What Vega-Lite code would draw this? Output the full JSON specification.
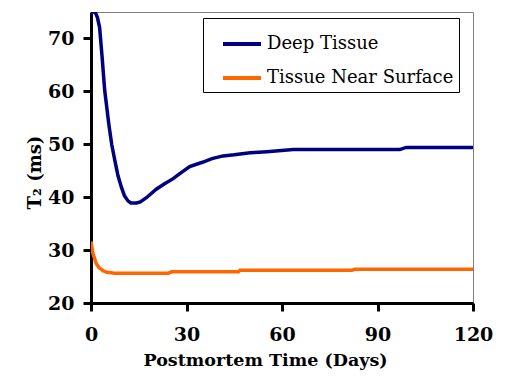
{
  "$schema": "https://vega.github.io/schema/vega-lite/v6.json",
  "width": 382,
  "height": 291,
  "autosize": {"type": "none"},
  "padding": {"left": 91, "top": 12, "right": 33, "bottom": 76},
  "background": "white",
  "config": {
    "font": "DejaVu Serif",
    "view": {"stroke": "#808080", "strokeWidth": 1},
    "axis": {
      "grid": false,
      "domainColor": "#000000",
      "domainWidth": 3,
      "tickColor": "#000000",
      "tickWidth": 3,
      "tickSize": 8,
      "labelFont": "DejaVu Serif",
      "labelFontWeight": "bold",
      "labelFontSize": 19,
      "labelColor": "#000000",
      "titleFont": "DejaVu Serif",
      "titleFontWeight": "bold",
      "titleFontSize": 17.5,
      "titleColor": "#000000"
    },
    "legend": {
      "orient": "none",
      "legendX": 112,
      "legendY": 6,
      "strokeColor": "#000000",
      "fillColor": "#ffffff",
      "padding": 5,
      "labelFont": "DejaVu Serif",
      "labelFontSize": 18,
      "labelColor": "#000000",
      "labelLimit": 400,
      "symbolType": "stroke",
      "symbolSize": 1444,
      "symbolStrokeWidth": 4,
      "symbolOffset": 13,
      "rowPadding": 4,
      "labelOffset": 4
    }
  },
  "data": {
    "values": [
      {"day": 0, "t2": 75, "tissue": "Deep Tissue"},
      {"day": 1.3, "t2": 75, "tissue": "Deep Tissue"},
      {"day": 2, "t2": 74, "tissue": "Deep Tissue"},
      {"day": 2.7, "t2": 72.1, "tissue": "Deep Tissue"},
      {"day": 3.5, "t2": 66.4, "tissue": "Deep Tissue"},
      {"day": 4.3, "t2": 60.2, "tissue": "Deep Tissue"},
      {"day": 5.6, "t2": 53.8, "tissue": "Deep Tissue"},
      {"day": 6.5, "t2": 50, "tissue": "Deep Tissue"},
      {"day": 7.5, "t2": 46.9, "tissue": "Deep Tissue"},
      {"day": 8.5, "t2": 44, "tissue": "Deep Tissue"},
      {"day": 9.6, "t2": 41.8, "tissue": "Deep Tissue"},
      {"day": 10.5, "t2": 40.3, "tissue": "Deep Tissue"},
      {"day": 11.6, "t2": 39.3, "tissue": "Deep Tissue"},
      {"day": 12.5, "t2": 38.9, "tissue": "Deep Tissue"},
      {"day": 14.3, "t2": 38.9, "tissue": "Deep Tissue"},
      {"day": 15.5, "t2": 39.1, "tissue": "Deep Tissue"},
      {"day": 17.4, "t2": 39.9, "tissue": "Deep Tissue"},
      {"day": 20.5, "t2": 41.5, "tissue": "Deep Tissue"},
      {"day": 23, "t2": 42.5, "tissue": "Deep Tissue"},
      {"day": 25.8, "t2": 43.5, "tissue": "Deep Tissue"},
      {"day": 28, "t2": 44.5, "tissue": "Deep Tissue"},
      {"day": 31, "t2": 45.8, "tissue": "Deep Tissue"},
      {"day": 35, "t2": 46.6, "tissue": "Deep Tissue"},
      {"day": 38, "t2": 47.3, "tissue": "Deep Tissue"},
      {"day": 41.5, "t2": 47.8, "tissue": "Deep Tissue"},
      {"day": 45, "t2": 48, "tissue": "Deep Tissue"},
      {"day": 50, "t2": 48.4, "tissue": "Deep Tissue"},
      {"day": 55.3, "t2": 48.6, "tissue": "Deep Tissue"},
      {"day": 63.5, "t2": 49, "tissue": "Deep Tissue"},
      {"day": 97, "t2": 49, "tissue": "Deep Tissue"},
      {"day": 99, "t2": 49.4, "tissue": "Deep Tissue"},
      {"day": 120, "t2": 49.4, "tissue": "Deep Tissue"},
      {"day": 0, "t2": 31.6, "tissue": "Tissue Near Surface"},
      {"day": 0.6, "t2": 29.4, "tissue": "Tissue Near Surface"},
      {"day": 1.6, "t2": 27.5, "tissue": "Tissue Near Surface"},
      {"day": 2.5, "t2": 26.7, "tissue": "Tissue Near Surface"},
      {"day": 3.8, "t2": 26.1, "tissue": "Tissue Near Surface"},
      {"day": 5, "t2": 25.8, "tissue": "Tissue Near Surface"},
      {"day": 6.4, "t2": 25.7, "tissue": "Tissue Near Surface"},
      {"day": 7.5, "t2": 25.6, "tissue": "Tissue Near Surface"},
      {"day": 24.2, "t2": 25.6, "tissue": "Tissue Near Surface"},
      {"day": 25.3, "t2": 25.9, "tissue": "Tissue Near Surface"},
      {"day": 46.3, "t2": 25.9, "tissue": "Tissue Near Surface"},
      {"day": 46.8, "t2": 26.2, "tissue": "Tissue Near Surface"},
      {"day": 82, "t2": 26.2, "tissue": "Tissue Near Surface"},
      {"day": 83, "t2": 26.4, "tissue": "Tissue Near Surface"},
      {"day": 120, "t2": 26.4, "tissue": "Tissue Near Surface"}
    ]
  },
  "mark": {"type": "line", "strokeWidth": 3.5, "clip": true},
  "encoding": {
    "x": {
      "field": "day",
      "type": "quantitative",
      "scale": {"domain": [0, 120], "nice": false},
      "axis": {"values": [0, 30, 60, 90, 120], "title": "Postmortem Time (Days)", "labelPadding": 14, "titleX": 174, "titleY": 62, "titleBaseline": "alphabetic", "labelFlush": false}
    },
    "y": {
      "field": "t2",
      "type": "quantitative",
      "scale": {"domain": [20, 75], "nice": false, "zero": false},
      "axis": {"values": [20, 30, 40, 50, 60, 70], "title": "T₂ (ms)", "titleFontSize": 18, "labelPadding": 9, "titleX": -51, "titleY": 160, "titleBaseline": "alphabetic", "labelFlush": false}
    },
    "color": {
      "field": "tissue",
      "type": "nominal",
      "scale": {"domain": ["Deep Tissue", "Tissue Near Surface"], "range": ["#000080", "#FF6600"]},
      "legend": {"title": null, "labelExpr": "datum.label + '\u00a0\u00a0\u00a0\u00a0\u00a0\u00a0'"}
    }
  }
}
